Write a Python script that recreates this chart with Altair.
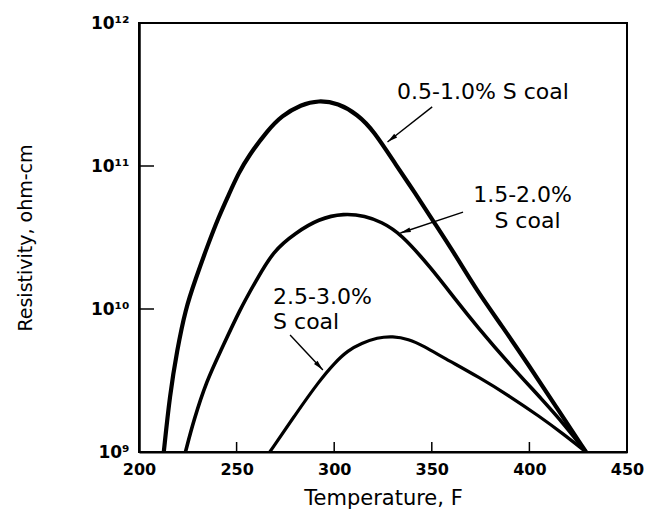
import json
import math
import altair as alt
import pandas as pd

# ---------------- data ----------------
series_names = ["0.5-1.0% S coal", "1.5-2.0% S coal", "2.5-3.0% S coal"]

temp_low = [212.7, 215.8, 219.5, 223.8, 229, 235, 241, 246, 251, 256, 266, 273, 283, 292, 302,
            312, 320, 332, 341, 351, 362, 373, 386, 399, 414, 429]
res_low = [1.00e9, 2.51e9, 5.13e9, 1.00e10, 1.62e10, 2.75e10, 4.47e10, 6.31e10, 8.91e10,
           1.17e11, 1.78e11, 2.24e11, 2.69e11, 2.88e11, 2.75e11, 2.29e11, 1.78e11, 1.00e11,
           6.61e10, 4.07e10, 2.40e10, 1.35e10, 7.59e9, 4.17e9, 2.04e9, 1.00e9]

temp_mid = [223.8, 228, 234.7, 242, 251.8, 260, 269, 280, 292, 305, 316, 324, 334, 350,
            362, 373, 390, 407, 418, 429]
res_mid = [1.00e9, 1.66e9, 3.16e9, 5.13e9, 1.00e10, 1.58e10, 2.57e10, 3.39e10, 4.27e10,
           4.68e10, 4.47e10, 4.07e10, 3.39e10, 1.91e10, 1.17e10, 7.59e9, 4.07e9, 2.29e9,
           1.55e9, 1.00e9]

temp_high = [267, 280, 292.5, 300, 307, 314, 322, 330, 338, 346, 356, 374.6, 390, 405, 417, 429]
res_high = [1.00e9, 1.82e9, 3.16e9, 4.17e9, 5.13e9, 5.75e9, 6.31e9, 6.46e9, 6.17e9, 5.50e9,
            4.57e9, 3.31e9, 2.45e9, 1.78e9, 1.35e9, 1.00e9]

x_ticks = [200, 250, 300, 350, 400, 450]
x_inner_ticks = [250, 300, 350, 400]
y_ticks = [1e9, 1e10, 1e11, 1e12]
y_inner_ticks = [1e10, 1e11]
y_tick_labels = ["10⁹", "10¹⁰", "10¹¹", "10¹²"]

# annotations: centred labels
label_c_text = ["0.5-1.0% S coal", "1.5-2.0%", "S coal"]
label_c_temp = [376.2, 396.5, 399.0]
label_c_res = [3.29e11, 6.31e10, 4.12e10]
# left-aligned labels
label_l_text = ["2.5-3.0%", "S coal"]
label_l_temp = [268.7, 268.7]
label_l_res = [1.21e10, 8.11e9]

# arrows (start near label, end on curve)
arrow_t0 = [350.2, 366.0, 277.4]
arrow_r0 = [2.59e11, 4.76e10, 6.58e9]
arrow_t1 = [327.3, 333.9, 294.2]
arrow_r1 = [1.47e11, 3.40e10, 3.74e9]

# ---------------- layout ----------------
W, H = 488, 429
X_DOM = [200, 450]
Y_DOM = [1e9, 1e12]
FONT = "DejaVu Sans"

xscale = alt.Scale(domain=X_DOM, nice=False, zero=False)
yscale = alt.Scale(type="log", domain=Y_DOM, nice=False)

label_expr = json.dumps(y_tick_labels, ensure_ascii=False) + "[round(log(datum.value)/LN10) - 9]"

xaxis = alt.Axis(values=x_ticks, format="d", tickSize=0, labelPadding=9, grid=False,
                 labelFont=FONT, labelFontSize=16, labelFontWeight="bold", labelColor="black",
                 titleFont=FONT, titleFontSize=21, titleFontWeight="normal",
                 titleColor="black", titleX=W / 2, titleY=46, titleBaseline="middle",
                 titleAlign="center", domainColor="black", domainWidth=2, labelFlush=False)
yaxis = alt.Axis(values=y_ticks, labelExpr=label_expr, tickSize=0, labelPadding=10, grid=False,
                 labelFont=FONT, labelFontSize=17, labelFontWeight="bold", labelColor="black",
                 titleFont=FONT, titleFontSize=19,
                 titleFontWeight="normal", titleColor="black", titleX=-114, titleY=H / 2,
                 titleBaseline="middle", titleAlign="center", titleAngle=270,
                 domainColor="black", domainWidth=2.5, labelFlush=False)

X_TITLE = "Temperature, F"
Y_TITLE = "Resistivity, ohm-cm"


def X(field):
    return alt.X(field, type="quantitative", scale=xscale, axis=xaxis, title=X_TITLE)


def Y(field):
    return alt.Y(field, type="quantitative", scale=yscale, axis=yaxis, title=Y_TITLE)


layers = []
widths = [4.2, 3.6, 3.2]
curve_data = [(temp_low, res_low), (temp_mid, res_mid), (temp_high, res_high)]
for i, (ts, rs) in enumerate(curve_data):
    df = pd.DataFrame({"T": ts, "R": rs, "series": series_names[i]})
    layers.append(alt.Chart(df).mark_line(interpolate="basis", color="black",
                                          strokeWidth=widths[i], clip=True).encode(
        x=X("T"), y=Y("R")))

# inward ticks
xt = pd.DataFrame({"T": x_inner_ticks})
layers.append(alt.Chart(xt).mark_rule(color="black", strokeWidth=1.5).encode(
    x=X("T"), y=alt.value(H), y2=alt.value(H - 10)))
yt = pd.DataFrame({"R": y_inner_ticks})
layers.append(alt.Chart(yt).mark_rule(color="black", strokeWidth=1.5).encode(
    y=Y("R"), x=alt.value(0), x2=alt.value(15)))


# arrows
def px(t):
    return (t - X_DOM[0]) / (X_DOM[1] - X_DOM[0]) * W


def py(r):
    return (math.log10(Y_DOM[1]) - math.log10(r)) / (math.log10(Y_DOM[1]) - math.log10(Y_DOM[0])) * H


angles = []
for t0, r0, t1, r1 in zip(arrow_t0, arrow_r0, arrow_t1, arrow_r1):
    dx = px(t1) - px(t0)
    dy = py(r1) - py(r0)
    angles.append(math.degrees(math.atan2(dx, -dy)) % 360)

arr = pd.DataFrame({"t0": arrow_t0, "r0": arrow_r0, "t1": arrow_t1, "r1": arrow_r1, "ang": angles})
layers.append(alt.Chart(arr).mark_rule(color="black", strokeWidth=1.4).encode(
    x=X("t0"), y=Y("r0"), x2="t1:Q", y2="r1:Q"))
layers.append(alt.Chart(arr).mark_point(shape="M0,0L0.6,2.6L-0.6,2.6Z", filled=True,
                                        color="black", opacity=1, size=64).encode(
    x=X("t1"), y=Y("r1"), angle=alt.Angle("ang:Q", scale=None)))

# labels
lc = pd.DataFrame({"txt": label_c_text, "T": label_c_temp, "R": label_c_res})
layers.append(alt.Chart(lc).mark_text(font=FONT, fontSize=22, align="center", baseline="middle",
                                      color="black").encode(
    x=X("T"), y=Y("R"), text="txt:N"))
ll = pd.DataFrame({"txt": label_l_text, "T": label_l_temp, "R": label_l_res})
layers.append(alt.Chart(ll).mark_text(font=FONT, fontSize=22, align="left", baseline="middle",
                                      color="black").encode(
    x=X("T"), y=Y("R"), text="txt:N"))

chart = alt.layer(*layers).properties(
    width=W, height=H,
    autosize=alt.AutoSizeParams(type="none"),
    padding={"left": 131, "top": 15, "right": 18, "bottom": 57},
    background="white",
).configure_view(stroke="black", strokeWidth=2)

chart.save("out.html", embed_options={"renderer": "svg", "actions": False})
